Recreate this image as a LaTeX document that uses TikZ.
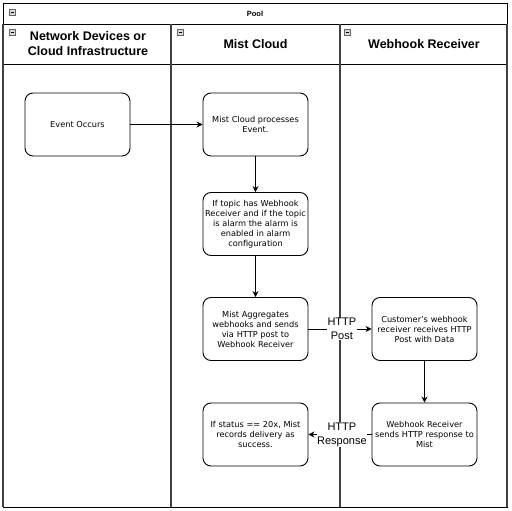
\documentclass[tikz,border=0pt]{standalone}
\usepackage{fontspec}
\setmainfont{DejaVu Sans}
\newfontfamily\arialf{Liberation Sans}
\usetikzlibrary{arrows.meta}
\begin{document}
\begin{tikzpicture}[x=1pt,y=-1pt,
  box/.style={draw, line width=0.9pt, rounded corners=8pt, minimum width=105pt, minimum height=63pt,
    align=center, text width=104pt, inner sep=0pt, font=\fontsize{8.2}{10}\selectfont},
  flow/.style={-{Stealth[length=6pt,width=6pt]}, line width=0.9pt},
  lanehead/.style={font=\arialf\bfseries\fontsize{12.5}{15}\selectfont, align=center},
  elabel/.style={font=\arialf\fontsize{11}{14}\selectfont, align=center, fill=white, inner sep=0.5pt},
  lane/.style={draw=black!75, line width=1.6pt},
  minusbox/.style={draw=black!60, fill=black!15, line width=0.5pt}
]
\useasboundingbox (0,0) rectangle (512,511);
% pool frame
\draw[line width=0.8pt] (3,3) rectangle (507,507);
\draw[line width=0.8pt] (3,24) -- (507,24);
\draw[line width=0.8pt] (3,64) -- (507,64);
\draw[lane] (3,24) -- (3,507);
\draw[lane] (171,24) -- (171,507);
\draw[lane] (340,24) -- (340,507);
\draw[lane] (507,24) -- (507,507);
% minus boxes
\foreach \bx/\by in {9/9, 9/29, 177/29, 344/29} {
  \draw[minusbox] (\bx,\by) rectangle ++(6,6);
  \draw[line width=0.6pt] (\bx+1.5,\by+3) -- (\bx+4.5,\by+3);
}
% titles
\node[font=\arialf\bfseries\fontsize{7.5}{9}\selectfont] (pool) at (255,14) {Pool};
\node[lanehead] (h1) at (88,44) {Network Devices or\\Cloud Infrastructure};
\node[lanehead] (h2) at (255.5,44) {Mist Cloud};
\node[lanehead] (h3) at (424,44) {Webhook Receiver};
% nodes
\node[box] (ev) at (77.5,124.5) {Event Occurs};
\node[box] (proc) at (255.5,124.5) {Mist Cloud processes\\Event.};
\node[box] (topic) at (255.5,224) {If topic has Webhook\\Receiver and if the topic\\is alarm the alarm is\\enabled in alarm\\configuration};
\node[box] (agg) at (255.5,329) {Mist Aggregates\\webhooks and sends\\via HTTP post to\\Webhook Receiver};
\node[box] (cust) at (424.5,329) {Customer's webhook\\receiver receives HTTP\\Post with Data};
\node[box] (resp) at (424.5,434.5) {Webhook Receiver\\sends HTTP response to\\Mist};
\node[box] (stat) at (255.5,434.5) {If status == 20x, Mist\\records delivery as\\success.};
% connectors
\draw[flow] (ev) -- (proc);
\draw[flow] (proc) -- (topic);
\draw[flow] (topic) -- (agg);
\draw[flow] (agg) -- node[elabel, pos=0.53] (lpost) {HTTP\\Post} (cust);
\draw[flow] (cust) -- (resp);
\draw[flow] (resp) -- node[elabel, pos=0.47] (lresp) {HTTP\\Response} (stat);
\end{tikzpicture}
\end{document}
